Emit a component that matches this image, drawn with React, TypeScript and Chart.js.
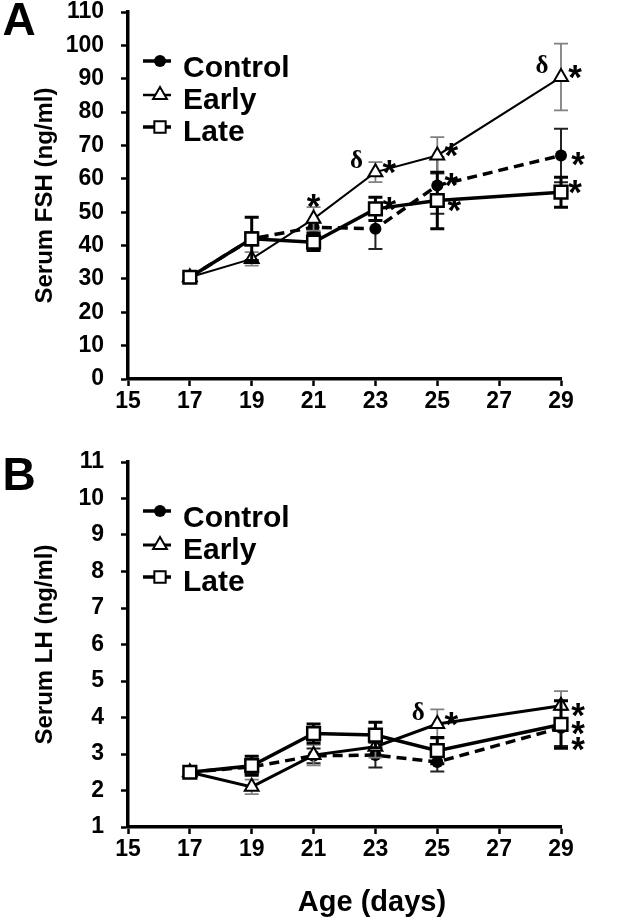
import React, { useEffect, useRef } from 'react';
import { Chart, registerables } from 'chart.js';

Chart.register(...registerables);

// ---------------- data ----------------
const ages = [17, 19, 21, 23, 25, 29];
const xTickValues = [15, 17, 19, 21, 23, 25, 27, 29];
const seriesNames = ['Control', 'Early', 'Late'];

const fshTicks = [0, 10, 20, 30, 40, 50, 60, 70, 80, 90, 100, 110];
const fshControl = [30.5, 42, 45.5, 45, 58, 67];
const fshControlErr = [1, 2, 1.5, 6, 8.5, 8];
const fshEarly = [30.5, 36, 48, 62, 67, 90.5];
const fshEarlyErr = [0.8, 2, 3.5, 3, 5.5, 10];
const fshLate = [30.5, 42, 41, 51, 53.5, 56];
const fshLateErr = [1, 6.5, 2.5, 3.5, 8.5, 4.5];

const lhTicks = [1, 2, 3, 4, 5, 6, 7, 8, 9, 10, 11];
const lhControl = [2.5, 2.65, 2.95, 2.97, 2.78, 3.72];
const lhControlErr = [0.05, 0.2, 0.2, 0.34, 0.26, 0.5];
const lhEarly = [2.5, 2.1, 2.97, 3.2, 3.82, 4.32];
const lhEarlyErr = [0.05, 0.2, 0.28, 0.3, 0.4, 0.4];
const lhLate = [2.5, 2.68, 3.56, 3.52, 3.09, 3.81];
const lhLateErr = [0.05, 0.26, 0.26, 0.35, 0.36, 0.65];

// significance marks: [series, age, symbol, placement]
type Mark = [string, number, string, string];
const fshMarks: Mark[] = [
  ['Early', 21, '*', 'above'],
  ['Early', 23, 'δ', 'left'],
  ['Early', 23, '*', 'upperRight'],
  ['Early', 25, '*', 'upperRight'],
  ['Early', 29, 'δ', 'left'],
  ['Early', 29, '*', 'upperRight'],
  ['Control', 25, '*', 'upperRight'],
  ['Control', 29, '*', 'right'],
  ['Late', 23, '*', 'upperRight'],
  ['Late', 25, '*', 'right'],
  ['Late', 29, '*', 'upperRight'],
];
const lhMarks: Mark[] = [
  ['Early', 25, 'δ', 'left'],
  ['Early', 25, '*', 'upperRight'],
  ['Early', 29, '*', 'right'],
  ['Late', 29, '*', 'right'],
  ['Control', 29, '*', 'lowerRight'],
];

// ---------------- styles / layout ----------------
const FAMILY = "'Liberation Sans', Arial, Helvetica, sans-serif";
const SERIF = "'Liberation Serif', 'Times New Roman', serif";
const LEFT = 128;
const RIGHT = 561;

const placements: Record<string, [number, number]> = {
  above: [0, -22],
  left: [-19, -12],
  upperRight: [14, -9],
  right: [17, 0],
  lowerRight: [17, 12],
};

const seriesStyle = [
  { dash: [10, 6], point: 'circle', radius: 6, fill: '#000', pointBorder: 0, errColor: '#222', errWidth: 2 },
  { dash: [] as number[], point: 'triangle', radius: 8, fill: '#fff', pointBorder: 2, errColor: '#808080', errWidth: 1.8 },
  { dash: [] as number[], point: 'rect', radius: 9, fill: '#fff', pointBorder: 2.5, errColor: '#000', errWidth: 3 },
];

interface Panel {
  height: number;
  areaTop: number;
  areaBottom: number;
  yMin: number;
  yMax: number;
  ticks: number[];
  series: number[][];
  errs: number[][];
  marks: Mark[];
  yTitle: string;
  letter: string;
  letterY: number;
  lineWidths: number[];
  xTitle?: string;
  xTitleY?: number;
}

const topPanel: Panel = {
  height: 440,
  areaTop: 12,
  areaBottom: 379,
  yMin: 0,
  yMax: 110,
  ticks: fshTicks,
  series: [fshControl, fshEarly, fshLate],
  errs: [fshControlErr, fshEarlyErr, fshLateErr],
  marks: fshMarks,
  yTitle: 'Serum FSH (ng/ml)',
  letter: 'A',
  letterY: 22,
  lineWidths: [3.5, 2, 3.5],
};

const bottomPanel: Panel = {
  height: 482,
  areaTop: 22,
  areaBottom: 387,
  yMin: 1,
  yMax: 11,
  ticks: lhTicks,
  series: [lhControl, lhEarly, lhLate],
  errs: [lhControlErr, lhEarlyErr, lhLateErr],
  marks: lhMarks,
  yTitle: 'Serum LH (ng/ml)',
  letter: 'B',
  letterY: 37,
  lineWidths: [3.5, 3, 3.5],
  xTitle: 'Age (days)',
  xTitleY: 463,
};

function drawMarker(ctx: CanvasRenderingContext2D, kind: string, x: number, y: number, r: number, fill: string, bw: number) {
  ctx.save();
  ctx.setLineDash([]);
  ctx.fillStyle = fill;
  ctx.strokeStyle = '#000';
  ctx.lineWidth = bw;
  ctx.beginPath();
  if (kind === 'circle') {
    ctx.arc(x, y, r, 0, Math.PI * 2);
  } else if (kind === 'triangle') {
    const s = Math.sin(Math.PI / 3) * r;
    ctx.moveTo(x, y - r);
    ctx.lineTo(x + s, y + r / 2);
    ctx.lineTo(x - s, y + r / 2);
    ctx.closePath();
  } else {
    const h = Math.SQRT1_2 * r;
    ctx.rect(x - h, y - h, 2 * h, 2 * h);
  }
  ctx.fill();
  if (bw > 0) ctx.stroke();
  ctx.restore();
}

function makeChart(canvas: HTMLCanvasElement, spec: Panel) {
  const tickFont = { family: FAMILY, size: 23, weight: 'bold' as const, lineHeight: 1 };
  const gridOpts = { drawOnChartArea: false, drawTicks: true, tickLength: 7, tickWidth: 2.5, tickColor: '#000' };
  const borderOpts = { display: true, color: '#000', width: 3.5 };

  const overlay = {
    id: 'overlay',
    beforeDatasetDraw(chart: any, args: any) {
      const i = args.index;
      const ctx: CanvasRenderingContext2D = chart.ctx;
      const xs = chart.scales.x;
      const ys = chart.scales.y;
      const st = seriesStyle[i];
      const vals = spec.series[i];
      const errs = spec.errs[i];
      const cap = 7;
      ctx.save();
      ctx.setLineDash([]);
      ctx.strokeStyle = st.errColor;
      ctx.lineWidth = st.errWidth;
      ages.forEach((a, k) => {
        const px = xs.getPixelForValue(a);
        const t = ys.getPixelForValue(vals[k] + errs[k]);
        const b = ys.getPixelForValue(vals[k] - errs[k]);
        ctx.beginPath();
        ctx.moveTo(px, t);
        ctx.lineTo(px, b);
        ctx.moveTo(px - cap, t);
        ctx.lineTo(px + cap, t);
        ctx.moveTo(px - cap, b);
        ctx.lineTo(px + cap, b);
        ctx.stroke();
      });
      ctx.restore();
    },
    afterDraw(chart: any) {
      const ctx: CanvasRenderingContext2D = chart.ctx;
      const area = chart.chartArea;
      const xs = chart.scales.x;
      const ys = chart.scales.y;
      ctx.save();
      ctx.fillStyle = '#000';

      // panel letter
      ctx.font = `bold 46px ${FAMILY}`;
      ctx.textAlign = 'center';
      ctx.textBaseline = 'middle';
      ctx.fillText(spec.letter, 19, spec.letterY);

      // y title
      ctx.save();
      ctx.translate(45, (area.top + area.bottom) / 2);
      ctx.rotate(-Math.PI / 2);
      ctx.font = `bold 24px ${FAMILY}`;
      ctx.textAlign = 'center';
      ctx.textBaseline = 'middle';
      ctx.fillText(spec.yTitle, 0, 0);
      ctx.restore();

      // x title
      if (spec.xTitle) {
        ctx.font = `bold 29px ${FAMILY}`;
        ctx.textAlign = 'center';
        ctx.textBaseline = 'middle';
        ctx.fillText(spec.xTitle, 372, spec.xTitleY!);
      }

      // legend
      const textRows = [57, 89, 121];
      const symRows = [49, 83, 115];
      seriesNames.forEach((name, i) => {
        const st = seriesStyle[i];
        const sy = area.top + symRows[i];
        ctx.save();
        ctx.strokeStyle = '#000';
        ctx.lineWidth = spec.lineWidths[i] < 3 ? 2.5 : spec.lineWidths[i];
        ctx.setLineDash([]);
        ctx.beginPath();
        ctx.moveTo(area.left + 15, sy);
        ctx.lineTo(area.left + 43, sy);
        ctx.stroke();
        ctx.restore();
        const r = st.point === 'circle' ? 6 : 8;
        drawMarker(ctx, st.point, area.left + 32, sy, r, st.fill, st.point === 'circle' ? 0 : 2);
        ctx.fillStyle = '#000';
        ctx.font = `bold 30px ${FAMILY}`;
        ctx.textAlign = 'left';
        ctx.textBaseline = 'middle';
        ctx.fillText(name, area.left + 55, area.top + textRows[i]);
      });

      // significance marks
      spec.marks.forEach(([series, age, sym, place]) => {
        const si = seriesNames.indexOf(series);
        const k = ages.indexOf(age);
        const px = xs.getPixelForValue(age) + placements[place][0];
        const py = ys.getPixelForValue(spec.series[si][k]) + placements[place][1];
        ctx.textAlign = 'center';
        ctx.textBaseline = 'alphabetic';
        if (sym === '*') {
          const size = 35;
          ctx.font = `bold ${size}px ${FAMILY}`;
          ctx.fillText(sym, px, py + 0.6 * size);
        } else {
          const size = 25;
          ctx.font = `bold ${size}px ${SERIF}`;
          ctx.fillText(sym, px, py + 0.33 * size);
        }
      });
      ctx.restore();
    },
  };

  return new Chart(canvas, {
    type: 'line',
    data: {
      datasets: spec.series.map((vals, i) => ({
        label: seriesNames[i],
        data: ages.map((a, k) => ({ x: a, y: vals[k] })),
        borderColor: '#000',
        borderWidth: spec.lineWidths[i],
        borderDash: seriesStyle[i].dash,
        pointStyle: seriesStyle[i].point as any,
        pointRadius: seriesStyle[i].radius,
        pointBackgroundColor: seriesStyle[i].fill,
        pointBorderColor: '#000',
        pointBorderWidth: seriesStyle[i].pointBorder,
        tension: 0,
        fill: false,
        order: [2, 1, 0][i],
        clip: false as any,
      })),
    },
    options: {
      responsive: false,
      animation: false,
      devicePixelRatio: 1,
      events: [],
      layout: { padding: { top: spec.areaTop, right: 640 - RIGHT, bottom: 0, left: 0 } },
      plugins: { legend: { display: false }, tooltip: { enabled: false } },
      scales: {
        x: {
          type: 'linear',
          min: 15,
          max: 29,
          afterBuildTicks: (s: any) => {
            s.ticks = xTickValues.map((v) => ({ value: v }));
          },
          afterFit: (s: any) => {
            s.height = spec.height - spec.areaBottom;
            s.paddingLeft = 0;
            s.paddingRight = 0;
          },
          ticks: { font: tickFont, color: '#000', padding: 4, maxRotation: 0, autoSkip: false },
          grid: gridOpts,
          border: borderOpts,
        },
        y: {
          type: 'linear',
          min: spec.yMin,
          max: spec.yMax,
          afterBuildTicks: (s: any) => {
            s.ticks = spec.ticks.map((v) => ({ value: v }));
          },
          afterFit: (s: any) => {
            s.width = LEFT;
            s.paddingTop = 0;
            s.paddingBottom = 0;
          },
          ticks: { font: tickFont, color: '#000', padding: 17, autoSkip: false },
          grid: gridOpts,
          border: borderOpts,
        },
      },
    },
    plugins: [overlay],
  } as any);
}

export default function App() {
  const topRef = useRef<HTMLCanvasElement>(null);
  const botRef = useRef<HTMLCanvasElement>(null);
  useEffect(() => {
    const c1 = makeChart(topRef.current!, topPanel);
    const c2 = makeChart(botRef.current!, bottomPanel);
    return () => {
      c1.destroy();
      c2.destroy();
    };
  }, []);
  return (
    <div style={{ position: 'absolute', left: 0, top: 0, width: 640, height: 922, background: '#fff' }}>
      <canvas
        ref={topRef}
        width={640}
        height={440}
        style={{ position: 'absolute', left: 0, top: 0, width: 640, height: 440 }}
      />
      <canvas
        ref={botRef}
        width={640}
        height={482}
        style={{ position: 'absolute', left: 0, top: 440, width: 640, height: 482 }}
      />
    </div>
  );
}
